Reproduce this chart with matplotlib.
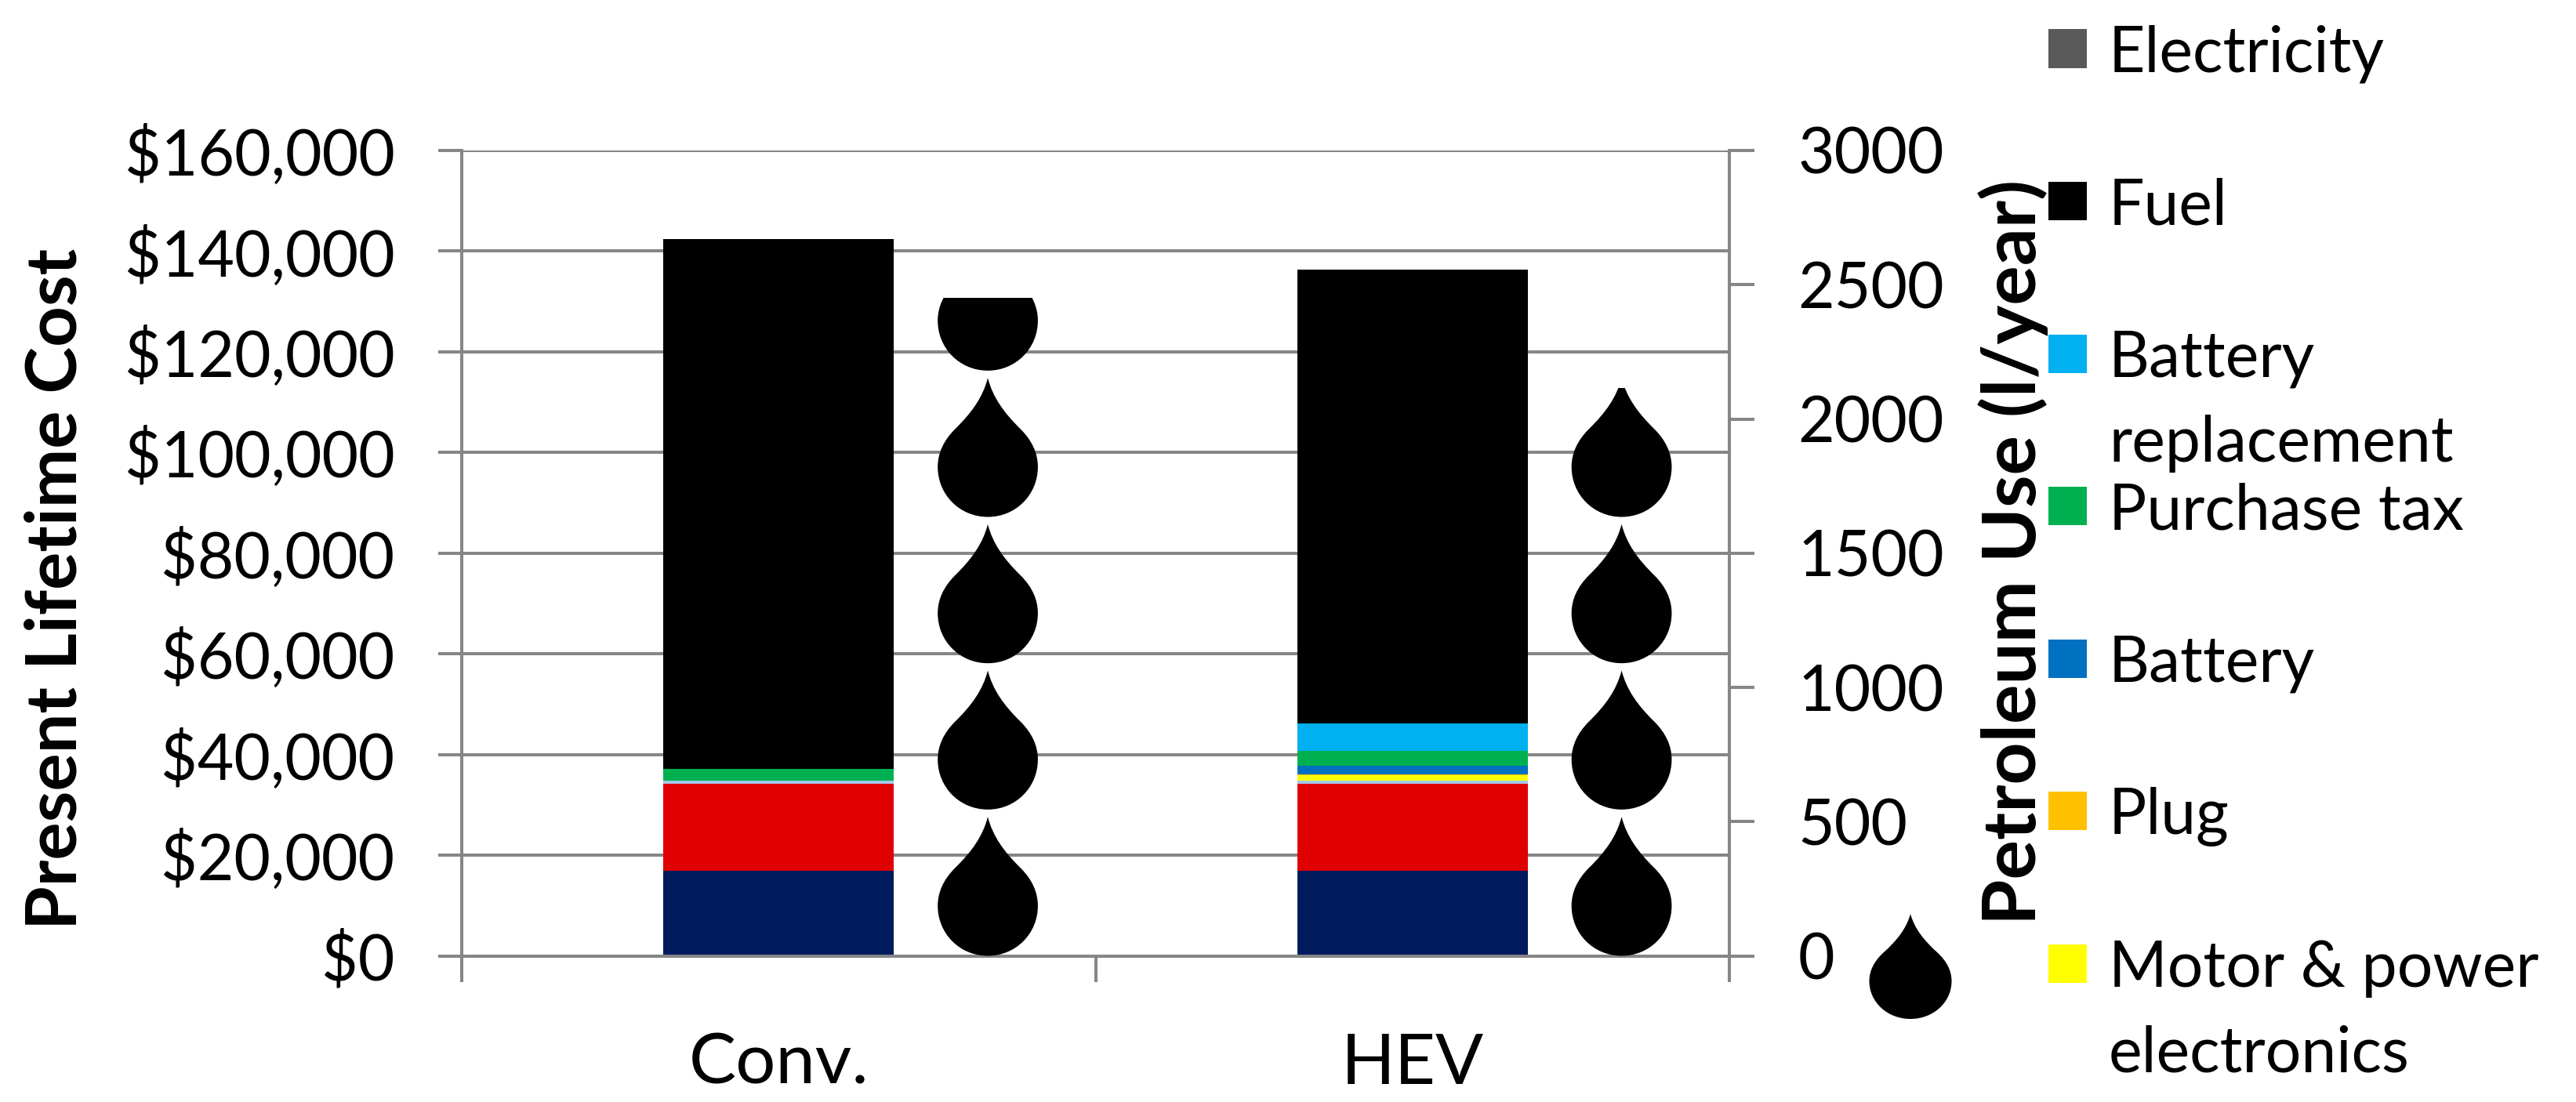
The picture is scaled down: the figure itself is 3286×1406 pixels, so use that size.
import numpy as np
import matplotlib
matplotlib.use('Agg')
import matplotlib.pyplot as plt
from matplotlib.patches import PathPatch, Rectangle
from matplotlib.path import Path
from matplotlib.transforms import Affine2D

W, H = 3286, 1406
plt.rcParams['font.family'] = ['Lato', 'DejaVu Sans']

categorias = ['Conv.', 'HEV']

# custos empilhados, de baixo para cima
glider = [16940, 16940]
engine = [17280, 17240]
transmissao = [580, 620]
motor = [0, 1100]
plug = [0, 140]
battery = [0, 1720]
purchase_tax = [2330, 3010]
battery_repl = [0, 5350]
fuel = [105270, 90280]
electricity = [0, 0]

petroleo = [2450, 2115]
litros_por_gota = 545

custo_ticks = [0, 20000, 40000, 60000, 80000, 100000, 120000, 140000, 160000]
petroleo_ticks = [0, 500, 1000, 1500, 2000, 2500, 3000]

series = [
    (glider, '#001A5E'),
    (engine, '#E00000'),
    (transmissao, '#A6CAEC'),
    (motor, '#FFFF00'),
    (plug, '#FFC000'),
    (battery, '#0070C0'),
    (purchase_tax, '#00B050'),
    (battery_repl, '#00B0F0'),
    (fuel, '#000000'),
    (electricity, '#595959'),
]

legenda = [
    ('Electricity', '#595959'),
    ('Fuel', '#000000'),
    ('Battery\nreplacement', '#00B0F0'),
    ('Purchase tax', '#00B050'),
    ('Battery', '#0070C0'),
    ('Plug', '#FFC000'),
    ('Motor & power\nelectronics', '#FFFF00'),
]

CINZA = '#868686'
LW = 2.9
FS = 58

# gota unitaria: x em [-0.5, 0.5], y em [0, 1]
verts = [(0, 1),
         (0.05, 0.86), (0.16, 0.75), (0.33, 0.63),
         (0.44, 0.55), (0.5, 0.46), (0.5, 0.36),
         (0.5, 0.16), (0.28, 0), (0, 0),
         (-0.28, 0), (-0.5, 0.16), (-0.5, 0.36),
         (-0.5, 0.46), (-0.44, 0.55), (-0.33, 0.63),
         (-0.16, 0.75), (-0.05, 0.86), (0, 1)]
codes = [Path.MOVETO] + [Path.CURVE4] * 18
GOTA = Path(verts, codes)


def fx(px):
    return px / W


def fy(px):
    return 1 - px / H


fig = plt.figure(figsize=(W / 100, H / 100), dpi=100)
ax = fig.add_axes([fx(589), fy(1219.5), (2206 - 589) / W, (1219.5 - 192) / H])
ax2 = ax.twinx()
ax.set_zorder(1)
ax2.set_zorder(2)
ax2.patch.set_visible(False)

x = np.arange(len(categorias))
base = np.zeros(len(categorias))
for valores, cor in series:
    ax.bar(x, valores, 0.3636, bottom=base, color=cor, zorder=3)
    base += np.array(valores)

ax.set_xlim(-0.5, 1.5)
ax.set_ylim(0, 160000)
ax.set_yticks(custo_ticks)
ax.set_yticklabels(['${:,}'.format(v) for v in custo_ticks], fontsize=FS)
ax.set_xticks([-0.5, 0.5, 1.5])
ax.set_xticklabels([])
ax.set_xticks(x, minor=True)
ax.set_xticklabels(categorias, minor=True, fontsize=65)
ax.grid(axis='y', color=CINZA, lw=LW, zorder=0)
ax.tick_params(axis='y', length=21.6, width=LW, color=CINZA, pad=40)
ax.tick_params(axis='x', which='major', length=24, width=LW, color=CINZA)
ax.tick_params(axis='x', which='minor', length=0, pad=70)

ax2.set_ylim(0, 3000)
ax2.set_yticks(petroleo_ticks)
ax2.set_yticklabels([str(v) for v in petroleo_ticks], fontsize=FS)
ax2.tick_params(axis='y', length=23, width=LW, color=CINZA, pad=40)

for a in (ax, ax2):
    a.spines['top'].set_visible(False)
    a.spines['left'].set_color(CINZA)
    a.spines['right'].set_color(CINZA)
    a.spines['bottom'].set_color(CINZA)
    for s in a.spines.values():
        s.set_linewidth(LW)

# pilha de gotas, cortada no valor de cada veiculo
largura_gota = 0.158
for i, valor in enumerate(petroleo):
    corte = Rectangle((i + 0.33 - largura_gota, 0), 2 * largura_gota, valor, transform=ax2.transData)
    for k in range(int(np.ceil(valor / litros_por_gota))):
        tr = Affine2D().scale(largura_gota, litros_por_gota * 0.95).translate(i + 0.33, k * litros_por_gota)
        gota = PathPatch(GOTA, transform=tr + ax2.transData, fc='black', ec='none', zorder=4)
        ax2.add_patch(gota)
        gota.set_clip_path(corte)

# gota da legenda, fora dos eixos
tr = Affine2D().scale(105, -134).translate(2437, 1300).scale(1 / W, -1 / H).translate(0, 1)
fig.add_artist(PathPatch(GOTA, transform=tr + fig.transFigure, fc='black', ec='none'))

fig.text(fx(72), fy(751), 'Present Lifetime Cost', rotation=90, ha='center', va='center',
         fontsize=65, fontweight='bold')
fig.text(fx(2568), fy(704), 'Petroleum Use (l/year)', rotation=90, ha='center', va='center',
         fontsize=68, fontweight='bold')

y_leg = 62
for nome, cor in legenda:
    fig.add_artist(Rectangle((fx(2613), fy(y_leg + 24.5)), 49 / W, 49 / H, transform=fig.transFigure,
                             fc=cor, ec='none', zorder=5))
    linhas = nome.split('\n')
    for j, linha in enumerate(linhas):
        fig.text(fx(2690), fy(y_leg + j * 108), linha, ha='left', va='center_baseline', fontsize=FS)
    y_leg += 194.5

fig.savefig('out.png', dpi=100)
